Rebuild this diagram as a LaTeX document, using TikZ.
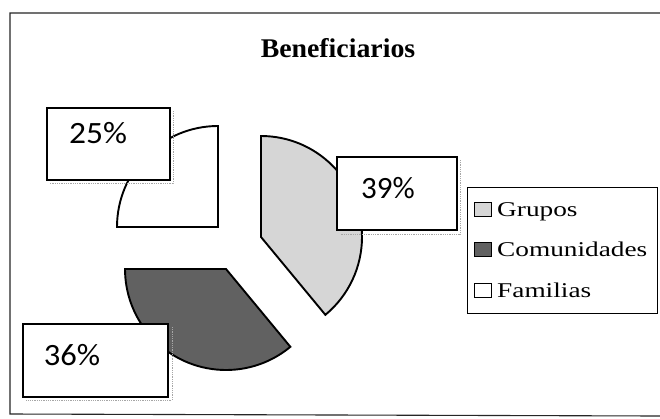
\documentclass[tikz,border=0pt]{standalone}
\usepackage{fontspec}
\setmainfont{Liberation Serif}
\newfontfamily\pctfont{Carlito}
\usetikzlibrary{calc}
\definecolor{grupofill}{gray}{0.84}
\definecolor{comufill}{gray}{0.38}
\tikzset{
  slice/.style={draw=black, line width=1.9pt, line join=miter},
  pctbox/.style={draw=black, line width=1.3pt, fill=white},
  shadowline/.style={draw=gray!70, line width=0.8pt, densely dotted},
  legsq/.style={draw=black, line width=1pt},
  legtext/.style={anchor=base west, inner sep=0pt, font=\fontsize{21}{21}\selectfont},
  pcttext/.style={anchor=base, inner sep=0pt, font=\pctfont\fontsize{31}{31}\selectfont},
}
\begin{document}
\begin{tikzpicture}[x=1pt,y=-1pt]
\useasboundingbox (0,0) rectangle (660,418);
\fill[white] (0,0) rectangle (660,418);
% frame
\draw[line width=1.1pt, black!85] (660,13) -- (10,13) -- (10,414) -- (660,416);
% title
\node[anchor=base, inner sep=0pt, font=\bfseries\fontsize{27}{27}\selectfont] (title) at (338,57) {\scalebox{1.03}[1]{Beneficiarios}};
% pie slices (exploded), pie centre (236,246)
\coordinate (cg) at (261,237);
\coordinate (cc) at (226,269);
\coordinate (cf) at (218,227);
\filldraw[slice, fill=grupofill] (cg) -- ++(-90:101) arc[start angle=-90, end angle=50.4, radius=101] -- cycle;
\filldraw[slice, fill=comufill] (cc) -- ++(50.4:101) arc[start angle=50.4, end angle=180, radius=101] -- cycle;
\filldraw[slice, fill=white] (cf) -- ++(180:101) arc[start angle=180, end angle=270, radius=101] -- cycle;
% percentage boxes with faint shadows
\draw[shadowline] (173,111) -- (173,183) -- (50,183);
\draw[pctbox] (47,108) rectangle (170,180);
\node[pcttext] (p25) at (98,143) {\scalebox{1.08}[1]{25\%}};
\draw[shadowline] (460,160) -- (460,234) -- (340,234);
\draw[pctbox] (337,157) rectangle (457,230);
\node[pcttext] (p39) at (388,198) {\scalebox{1.0}[1]{39\%}};
\draw[shadowline] (172,327) -- (172,400) -- (26,400);
\draw[pctbox] (23,324) rectangle (168,397);
\node[pcttext] (p36) at (72,365) {\scalebox{1.05}[1]{36\%}};
% legend
\draw[line width=1pt] (467,187) rectangle (657,313);
\draw[legsq, fill=grupofill] (474,202) rectangle (491,216);
\node[legtext] (lg) at (497,216) {\scalebox{1.3}[1]{Grupos}};
\draw[legsq, fill=comufill] (474,242) rectangle (491,256);
\node[legtext] (lc) at (497,256) {\scalebox{1.3}[1]{Comunidades}};
\draw[legsq, fill=white] (474,283) rectangle (491,297);
\node[legtext] (lf) at (497,297) {\scalebox{1.3}[1]{Familias}};
\end{tikzpicture}
\end{document}
